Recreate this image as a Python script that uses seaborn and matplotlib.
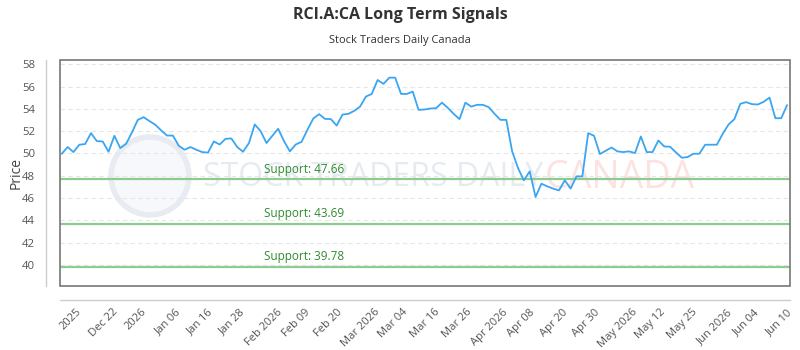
import numpy as np
import pandas as pd
import matplotlib.pyplot as plt
from matplotlib.patches import Circle, Rectangle
import matplotlib.transforms as mtransforms
import seaborn as sns

# price series
prices = [49.97, 50.57, 50.12, 50.78, 50.84, 51.82, 51.10, 51.07, 50.15, 51.58,
          50.48, 50.86, 51.88, 53.01, 53.25, 52.90, 52.57, 52.06, 51.60, 51.60,
          50.69, 50.33, 50.57, 50.33, 50.12, 50.07, 51.07, 50.80, 51.31, 51.34,
          50.57, 50.15, 50.93, 52.60, 52.00, 50.93, 51.58, 52.21, 51.10, 50.18,
          50.80, 51.04, 52.12, 53.13, 53.52, 53.10, 53.08, 52.50, 53.49, 53.55,
          53.82, 54.20, 55.10, 55.34, 56.59, 56.24, 56.80, 56.80, 55.34, 55.34,
          55.55, 53.91, 53.94, 54.03, 54.06, 54.56, 54.09, 53.55, 53.08, 54.56,
          54.20, 54.36, 54.36, 54.15, 53.55, 53.01, 53.01, 50.18, 48.69, 47.58,
          48.39, 46.09, 47.28, 47.04, 46.84, 46.68, 47.58, 46.84, 47.94, 47.94,
          51.82, 51.58, 49.94, 50.24, 50.53, 50.18, 50.12, 50.18, 50.03, 51.52,
          50.12, 50.12, 51.16, 50.62, 50.60, 50.09, 49.61, 49.67, 49.97, 49.97,
          50.78, 50.78, 50.78, 51.76, 52.60, 53.08, 54.45, 54.60, 54.42, 54.39,
          54.63, 55.01, 53.16, 53.16, 54.33]

tick_labels = ['2025', 'Dec 22', '2026', 'Jan 06', 'Jan 16', 'Jan 28', 'Feb 2026',
               'Feb 09', 'Feb 20', 'Mar 2026', 'Mar 04', 'Mar 16', 'Mar 26',
               'Apr 2026', 'Apr 08', 'Apr 20', 'Apr 30', 'May 2026', 'May 12',
               'May 25', 'Jun 2026', 'Jun 04', 'Jun 10']

supports = [47.66, 43.69, 39.78]

df = pd.DataFrame({'idx': np.arange(len(prices)), 'price': prices})

sns.set_style('white')
plt.rcParams['font.family'] = ['Open Sans', 'DejaVu Sans']

fig = plt.figure(figsize=(8, 3.5), dpi=100)
ax = fig.add_axes([0.075, 0.183, 0.9125, 0.647])

# watermark
ax.text(203 / 800, 1 - 178 / 350, 'STOCK TRADERS DAILY', transform=fig.transFigure,
        fontsize=23, color='#e6ebf2', va='center', ha='left', zorder=0)
ax.text(545 / 800, 1 - 178 / 350, 'CANADA', transform=fig.transFigure,
        fontsize=27, color='#fde2e2', va='center', ha='left', zorder=0)
ax.add_patch(Circle((1.50, 1.74), 0.39, transform=fig.dpi_scale_trans,
                    facecolor='#f6f8fb', edgecolor='#e8ecf2', lw=4, zorder=0,
                    clip_on=False))

sns.lineplot(data=df, x='idx', y='price', ax=ax, color='#3aa6f2', lw=1.3, zorder=3)

trans = mtransforms.blended_transform_factory(ax.transAxes, ax.transData)
for s in supports:
    ax.axhline(s, color='#8fca8f', lw=1.6, zorder=2)
    ax.text(0.279, s + 0.35, f'Support: {s:.2f}', transform=trans,
            color='#2e8b2e', fontsize=8.5, va='bottom', ha='left', zorder=4)

ax.set_ylim(38.1, 58.43)
ax.set_xlim(-0.3, 124.5)
ax.set_yticks(np.arange(40, 59, 2))
ax.yaxis.grid(True, color='#e6e6e6', ls=(0, (4, 3)), lw=0.8)
ax.xaxis.grid(False)
ax.set_xticks(np.linspace(1.6, 122.6, len(tick_labels)))
ax.set_xticklabels(tick_labels)
ax.tick_params(axis='both', colors='#555555', length=0)
ax.tick_params(axis='y', pad=8, labelsize=8.2)
ax.tick_params(axis='x', pad=5, labelrotation=45, labelsize=8)
for lab in ax.get_xticklabels():
    lab.set_horizontalalignment('right')
    lab.set_rotation_mode('anchor')
ax.set_xlabel('')
ax.set_ylabel('Price', fontsize=10, color='#444444')
ax.yaxis.set_label_coords(-0.05, 0.5)

for side in ['top', 'right']:
    ax.spines[side].set_visible(False)
for side in ['left', 'bottom']:
    ax.spines[side].set_position(('outward', 10))
    ax.spines[side].set_color('#cccccc')
    ax.spines[side].set_linewidth(1)

ax.add_patch(Rectangle((0, 0), 1, 1, transform=ax.transAxes, fill=False,
                       edgecolor='#777777', lw=1.2, clip_on=False, zorder=5))

fig.text(0.5, 1 - 15 / 350, 'RCI.A:CA Long Term Signals', ha='center', va='center',
         fontsize=11.5, fontweight='bold', color='#333333')
fig.text(0.5, 1 - 40 / 350, 'Stock Traders Daily Canada', ha='center', va='center',
         fontsize=8, color='#333333')

fig.savefig('out.png', dpi=100)
